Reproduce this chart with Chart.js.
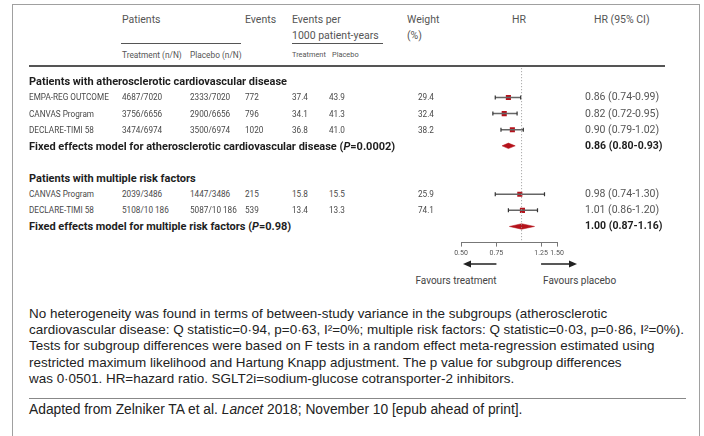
<!DOCTYPE html>
<html>
<head>
<meta charset="utf-8">
<script src="https://cdn.jsdelivr.net/npm/chart.js@4.4.0/dist/chart.umd.min.js"></script>
<style>
  body { margin: 0; width: 704px; height: 436px; overflow: hidden; background: #fff; font-family: Roboto, sans-serif; color: #555; }
  #frame { position: absolute; left: 12px; top: 4px; width: 686px; height: 470px; border: 1.5px solid #a0a0a0; }
  .t { position: absolute; white-space: nowrap; line-height: 1; transform: translateY(-50%); }
  .h { font-size: 10.5px; }
  .fav { font-size: 10px; color: #444; }
  .sub { font-size: 8.3px; }
  .sub2 { font-size: 7.4px; }
  .row { font-size: 8.2px; color: #4a4a4a; }
  .grp { font-size: 11px; font-weight: bold; color: #1e1e1e; }
  .ci { font-size: 10.5px; }
  .ci.b { font-weight: bold; color: #1e1e1e; }
  .rule { position: absolute; background: #555; }
  #wrap { position: absolute; left: 420px; top: 60px; width: 180px; height: 215px; }
  #note { position: absolute; left: 29px; top: 306px; width: 675px; font-family: "Liberation Sans", Arial, sans-serif; font-size: 13.45px; line-height: 16.2px; color: #222; white-space: nowrap; }
  #src { position: absolute; left: 29px; top: 402px; font-family: "Liberation Sans", Arial, sans-serif; font-size: 13.8px; color: #222; white-space: nowrap; }
</style>
</head>
<body>
<div id="frame"></div>
<div id="wrap"><canvas id="forest"></canvas></div>
<div id="note">No heterogeneity was found in terms of between-study variance in the subgroups (atherosclerotic<br>cardiovascular disease: Q statistic=0·94, p=0·63, I²=0%; multiple risk factors: Q statistic=0·03, p=0·86, I²=0%).<br>Tests for subgroup differences were based on F tests in a random effect meta-regression estimated using<br>restricted maximum likelihood and Hartung Knapp adjustment. The p value for subgroup differences<br>was 0·0501. HR=hazard ratio. SGLT2i=sodium-glucose cotransporter-2 inhibitors.</div>
<div class="rule" style="left:29px;top:398px;width:657px;height:1px;background:#888"></div>
<div id="src">Adapted from Zelniker TA et al. <i>Lancet</i> 2018; November 10 [epub ahead of print].</div>
<script>
const groupTitles = ["Patients with atherosclerotic cardiovascular disease", "Patients with multiple risk factors"];
const studies = ["EMPA-REG OUTCOME", "CANVAS Program", "DECLARE-TIMI 58", "CANVAS Program", "DECLARE-TIMI 58"];
const studyGroup = [0, 0, 0, 1, 1];
const treatN = ["4687/7020", "3756/6656", "3474/6974", "2039/3486", "5108/10 186"];
const placeboN = ["2333/7020", "2900/6656", "3500/6974", "1447/3486", "5087/10 186"];
const events = [772, 796, 1020, 215, 539];
const rateTreat = [37.4, 34.1, 36.8, 15.8, 13.4];
const ratePlacebo = [43.9, 41.3, 41.0, 15.5, 13.3];
const weights = [29.4, 32.4, 38.2, 25.9, 74.1];
const hr = [0.86, 0.82, 0.90, 0.98, 1.01];
const hrLow = [0.74, 0.72, 0.79, 0.74, 0.86];
const hrHigh = [0.99, 0.95, 1.02, 1.30, 1.20];
const pooledLabels = ["Fixed effects model for atherosclerotic cardiovascular disease", "Fixed effects model for multiple risk factors"];
const pooledP = ["0.0002", "0.98"];
const pooledHr = [0.86, 1.00];
const pooledLow = [0.80, 0.87];
const pooledHigh = [0.93, 1.16];
const xTicks = [0.5, 0.75, 1.25, 1.5];

const red = "#b5121b";
const diamondHalf = 0.17;

// row slots: group title, studies, pooled line, blank
const rows = [];
let slot = 0;
groupTitles.forEach((g, gi) => {
  rows.push({ kind: "head", gi, slot: slot++ });
  studies.forEach((s, i) => { if (studyGroup[i] === gi) rows.push({ kind: "study", i, slot: slot++ }); });
  rows.push({ kind: "pooled", gi, slot: slot++ });
  slot++;
});
const axisSlot = slot - 1;
const studySlot = studies.map((s, i) => rows.find(r => r.kind === "study" && r.i === i).slot);
const pooledSlot = groupTitles.map((g, gi) => rows.find(r => r.kind === "pooled" && r.gi === gi).slot);

const datasets = [];
datasets.push({ data: [{ x: 1, y: -1 }, { x: 1, y: axisSlot }], showLine: true, borderColor: "#999", borderWidth: 1, borderDash: [1, 2], pointRadius: 0 });
studies.forEach((s, i) => {
  datasets.push({
    data: [{ x: hrLow[i], y: studySlot[i] }, { x: hrHigh[i], y: studySlot[i] }],
    showLine: true, borderColor: "#666", borderWidth: 1.5,
    pointStyle: "line", pointRotation: 90, pointRadius: 2, pointBorderWidth: 1.2, pointBorderColor: "#333"
  });
});
datasets.push({
  data: hr.map((v, i) => ({ x: v, y: studySlot[i] })),
  pointStyle: "rect", pointRadius: 3.6, pointBackgroundColor: red, pointBorderColor: red, pointBorderWidth: 0
});
pooledHr.forEach((v, g) => {
  const s = pooledSlot[g];
  datasets.push({
    data: [{ x: pooledLow[g], y: s }, { x: v, y: s - diamondHalf }, { x: pooledHigh[g], y: s }, { x: v, y: s + diamondHalf }, { x: pooledLow[g], y: s }],
    showLine: true, fill: "shape", backgroundColor: red, borderColor: red, borderWidth: 0.5, pointRadius: 0
  });
});

const arrows = {
  id: "arrows",
  afterDraw(c) {
    const ctx = c.ctx, xs = c.scales.x, y = c.chartArea.bottom + 21.5;
    const head = (x, dir) => {
      ctx.beginPath();
      ctx.moveTo(x, y);
      ctx.lineTo(x - dir * 8, y - 3.5);
      ctx.lineTo(x - dir * 8, y + 3.5);
      ctx.closePath();
      ctx.fill();
    };
    ctx.save();
    ctx.strokeStyle = "#222";
    ctx.fillStyle = "#222";
    ctx.lineWidth = 1.5;
    const l0 = xs.getPixelForValue(0.75), l1 = xs.getPixelForValue(0.5) + 2;
    const r0 = xs.getPixelForValue(1.25), r1 = xs.getPixelForValue(1.5) + 20;
    ctx.beginPath();
    ctx.moveTo(l0, y); ctx.lineTo(l1 + 6, y);
    ctx.moveTo(r0, y); ctx.lineTo(r1 - 6, y);
    ctx.stroke();
    head(l1, -1);
    head(r1, 1);
    ctx.restore();
  }
};

const chart = new Chart(document.getElementById("forest"), {
  type: "scatter",
  data: { datasets },
  plugins: [arrows],
  options: {
    responsive: true, maintainAspectRatio: false, animation: false, events: [],
    layout: { padding: { left: 41, right: 43, top: 2, bottom: 16 } },
    plugins: { legend: { display: false }, tooltip: { enabled: false } },
    scales: {
      x: {
        type: "logarithmic", min: 0.5, max: 1.5,
        afterBuildTicks: ax => { ax.ticks = xTicks.map(v => ({ value: v })); },
        ticks: { callback: v => Number(v).toFixed(2), font: { family: "Roboto", size: 7 }, color: "#555", padding: 2, maxRotation: 0, autoSkip: false },
        grid: { drawOnChartArea: false, drawTicks: true, tickLength: 4, color: "#777" },
        border: { color: "#777", width: 1 }
      },
      y: { type: "linear", reverse: true, min: -1, max: axisSlot, display: false }
    }
  }
});

// table text, placed on the chart's own row positions
const wrapTop = 60, wrapLeft = 420;
const put = (html, x, y, cls) => {
  const d = document.createElement("div");
  d.className = "t " + cls;
  d.style.left = x + "px";
  d.style.top = y + "px";
  d.innerHTML = html;
  document.body.appendChild(d);
  return d;
};
const rowY = s => wrapTop + chart.scales.y.getPixelForValue(s);

put("Patients", 122, 20, "h");
put("Events", 245, 20, "h");
put("Events per", 292, 20, "h");
put("1000 patient-years", 292, 36, "h");
put("Weight", 407, 20, "h");
put("(%)", 407, 36, "h");
put("HR", 512, 20, "h");
put("HR (95% CI)", 594, 20, "h");
put("Treatment (n/N)", 122, 55, "sub");
put("Placebo (n/N)", 190, 55, "sub");
put("Treatment", 292, 55, "sub2");
put("Placebo", 332, 55, "sub2");

const rule = (x, y, w, h) => {
  const d = document.createElement("div");
  d.className = "rule";
  Object.assign(d.style, { left: x + "px", top: y + "px", width: w + "px", height: h + "px" });
  document.body.appendChild(d);
};
rule(121, 43, 120, 1.2);
rule(292, 43, 91, 1.2);
rule(29, 65, 636, 1.5);

rows.forEach(r => {
  const y = rowY(r.slot);
  if (r.kind === "head") put(groupTitles[r.gi], 29, y, "grp");
  if (r.kind === "pooled") {
    put(pooledLabels[r.gi] + " (<i>P</i>=" + pooledP[r.gi] + ")", 29, y, "grp");
    put(pooledHr[r.gi].toFixed(2) + " (" + pooledLow[r.gi].toFixed(2) + "-" + pooledHigh[r.gi].toFixed(2) + ")", 585, y, "ci b");
  }
  if (r.kind === "study") {
    const i = r.i;
    put(studies[i], 29, y, "row");
    put(treatN[i], 122, y, "row");
    put(placeboN[i], 190, y, "row");
    put(events[i], 245, y, "row");
    put(rateTreat[i].toFixed(1), 292, y, "row");
    put(ratePlacebo[i].toFixed(1), 329, y, "row");
    put(weights[i].toFixed(1), 418, y, "row");
    put(hr[i].toFixed(2) + " (" + hrLow[i].toFixed(2) + "-" + hrHigh[i].toFixed(2) + ")", 585, y, "ci");
  }
});

const xs = chart.scales.x;
const favY = wrapTop + chart.chartArea.bottom + 38;
const ft = put("Favours treatment", 0, favY, "fav");
ft.style.left = (wrapLeft + xs.getPixelForValue(0.75) - ft.offsetWidth) + "px";
put("Favours placebo", wrapLeft + xs.getPixelForValue(1.25) + 2, favY, "fav");
</script>
</body>
</html>
